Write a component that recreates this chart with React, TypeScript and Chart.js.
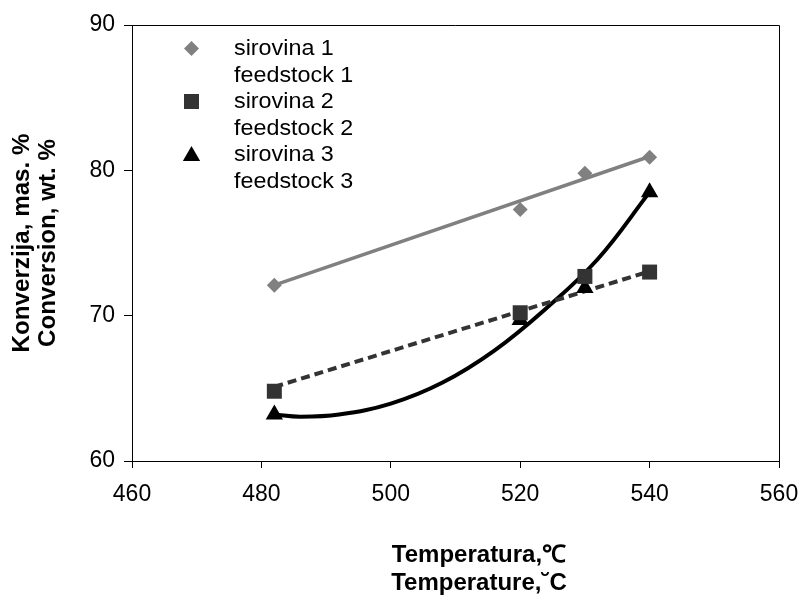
import React, { useEffect, useRef } from 'react';
import { Chart, registerables } from 'chart.js';

Chart.register(...registerables);

// ---- data ----
const temperatures = [482, 520, 530, 540];
const sirovina1 = [72.1, 77.3, 79.8, 80.9];
const sirovina2 = [64.8, 70.2, 72.7, 73.0];
const sirovina3 = [63.2, 69.7, 71.9, 78.5];

// trend lines
const trend1X = [482, 540];
const trend1Y = [72.1, 80.95];
const trend2X = [482, 540];
const trend2Y = [65.1, 73.05];
const trend3X = [482, 486, 492, 500, 508, 516, 524, 532, 540];
const trend3Y = [63.2, 63.05, 63.2, 63.95, 65.4, 67.6, 70.5, 73.9, 78.5];

const xTicks = [460, 480, 500, 520, 540, 560];
const yTicks = [60, 70, 80, 90];

const legendLines = [
  ['sirovina 1', 'feedstock 1'],
  ['sirovina 2', 'feedstock 2'],
  ['sirovina 3', 'feedstock 3'],
];
const yTitle = ['Konverzija, mas. %', 'Conversion, wt. %'];
const xTitle = ['Temperatura,\u2103', 'Temperature,\u02D8C'];

const C1 = '#808080';
const C2 = '#333333';
const C3 = '#000000';
const FONT = '"Liberation Sans", Arial, sans-serif';

const pts = (xs: number[], ys: number[]) => xs.map((x, i) => ({ x, y: ys[i] }));

function drawMarker(ctx: CanvasRenderingContext2D, kind: string, x: number, y: number, color: string) {
  ctx.save();
  ctx.fillStyle = color;
  ctx.beginPath();
  if (kind === 'diamond') {
    const r = 7.5;
    ctx.moveTo(x - r, y);
    ctx.lineTo(x, y - r);
    ctx.lineTo(x + r, y);
    ctx.lineTo(x, y + r);
  } else if (kind === 'square') {
    const s = 7.5;
    ctx.rect(x - s, y - s, 2 * s, 2 * s);
  } else {
    const r = 10;
    ctx.moveTo(x, y - r);
    ctx.lineTo(x + r * 0.866, y + r / 2);
    ctx.lineTo(x - r * 0.866, y + r / 2);
  }
  ctx.closePath();
  ctx.fill();
  ctx.restore();
}

const decorPlugin = {
  id: 'decor',
  afterDraw(chart: any) {
    const ctx: CanvasRenderingContext2D = chart.ctx;
    const a = chart.chartArea;
    ctx.save();
    // top & right frame
    ctx.strokeStyle = '#000';
    ctx.lineWidth = 1;
    ctx.beginPath();
    ctx.moveTo(a.left, a.top + 0.5);
    ctx.lineTo(a.right + 0.5, a.top + 0.5);
    ctx.lineTo(a.right + 0.5, a.bottom);
    ctx.stroke();

    // legend
    const kinds = ['diamond', 'square', 'triangle'];
    const colors = [C1, C2, C3];
    const markerY = [48.5, 101.5, 156];
    const baseY = [55, 82, 108, 134.5, 161, 187.5];
    ctx.fillStyle = '#000';
    ctx.font = `22px ${FONT}`;
    ctx.textAlign = 'left';
    ctx.textBaseline = 'alphabetic';
    legendLines.forEach((pair, i) => {
      drawMarker(ctx, kinds[i], 191.5, markerY[i], colors[i]);
      pair.forEach((t, j) => {
        ctx.save();
        ctx.translate(234, baseY[i * 2 + j]);
        ctx.scale(1.06, 1);
        ctx.fillText(t, 0, 0);
        ctx.restore();
      });
    });

    // y title
    ctx.font = `bold 23px ${FONT}`;
    ctx.textAlign = 'center';
    const cy = (a.top + a.bottom) / 2;
    [29, 55].forEach((bx, i) => {
      ctx.save();
      ctx.translate(bx, cy);
      ctx.rotate(-Math.PI / 2);
      ctx.scale(1.05, 1);
      ctx.fillText(yTitle[i], 0, 0);
      ctx.restore();
    });

    // x title
    ctx.font = `bold 24px ${FONT}`;
    [562, 590].forEach((by, i) => {
      ctx.fillText(xTitle[i], 479, by);
    });
    ctx.restore();
  },
};

export default function App() {
  const ref = useRef<HTMLCanvasElement>(null);
  useEffect(() => {
    if (!ref.current) return;
    const chart = new Chart(ref.current, {
      type: 'scatter',
      data: {
        datasets: [
          {
            label: 'sirovina 1',
            data: pts(temperatures, sirovina1),
            pointStyle: 'rectRot',
            pointRadius: 7.5,
            pointBackgroundColor: C1,
            pointBorderWidth: 0,
            showLine: false,
          },
          {
            label: 'sirovina 2',
            data: pts(temperatures, sirovina2),
            pointStyle: 'rect',
            pointRadius: 10.6,
            pointBackgroundColor: C2,
            pointBorderWidth: 0,
            showLine: false,
          },
          {
            label: 'sirovina 3',
            data: pts(temperatures, sirovina3),
            pointStyle: 'triangle',
            pointRadius: 10,
            pointBackgroundColor: C3,
            pointBorderWidth: 0,
            showLine: false,
          },
          {
            label: 'trend 1',
            data: pts(trend1X, trend1Y),
            showLine: true,
            borderColor: C1,
            borderWidth: 3.5,
            pointRadius: 0,
          },
          {
            label: 'trend 2',
            data: pts(trend2X, trend2Y),
            showLine: true,
            borderColor: C2,
            borderWidth: 4,
            borderDash: [9, 5],
            pointRadius: 0,
          },
          {
            label: 'trend 3',
            data: pts(trend3X, trend3Y),
            showLine: true,
            borderColor: C3,
            borderWidth: 4,
            tension: 0.4,
            cubicInterpolationMode: 'default',
            pointRadius: 0,
          },
        ],
      } as any,
      options: {
        animation: false,
        responsive: false,
        layout: { padding: { left: 0, top: 25, right: 24, bottom: 0 } },
        plugins: {
          legend: { display: false },
          tooltip: { enabled: false },
          title: { display: false },
        },
        scales: {
          x: {
            type: 'linear',
            min: 460,
            max: 560,
            afterBuildTicks: (s: any) => {
              s.ticks = xTicks.map((v) => ({ value: v }));
            },
            afterFit: (s: any) => {
              s.height = 140;
              s.paddingLeft = 0;
              s.paddingRight = 0;
            },
            grid: {
              display: true,
              drawOnChartArea: false,
              drawTicks: true,
              tickLength: 7,
              color: '#000',
            },
            border: { display: true, color: '#000', width: 1 },
            ticks: {
              color: '#000',
              font: { family: FONT, size: 23 },
              padding: 13,
              maxRotation: 0,
            },
          },
          y: {
            type: 'linear',
            min: 60,
            max: 90,
            afterBuildTicks: (s: any) => {
              s.ticks = yTicks.map((v) => ({ value: v }));
            },
            afterFit: (s: any) => {
              s.width = 132;
              s.paddingTop = 0;
              s.paddingBottom = 0;
            },
            grid: {
              display: true,
              drawOnChartArea: false,
              drawTicks: true,
              tickLength: 8,
              color: '#000',
            },
            border: { display: true, color: '#000', width: 1 },
            ticks: {
              color: '#000',
              font: { family: FONT, size: 23 },
              padding: 9,
            },
          },
        },
      } as any,
      plugins: [decorPlugin],
    });
    return () => chart.destroy();
  }, []);
  return (
    <div style={{ position: 'absolute', left: 0, top: 0, width: 803, height: 601, background: '#fff' }}>
      <canvas ref={ref} width={803} height={601} style={{ width: 803, height: 601 }} />
    </div>
  );
}
